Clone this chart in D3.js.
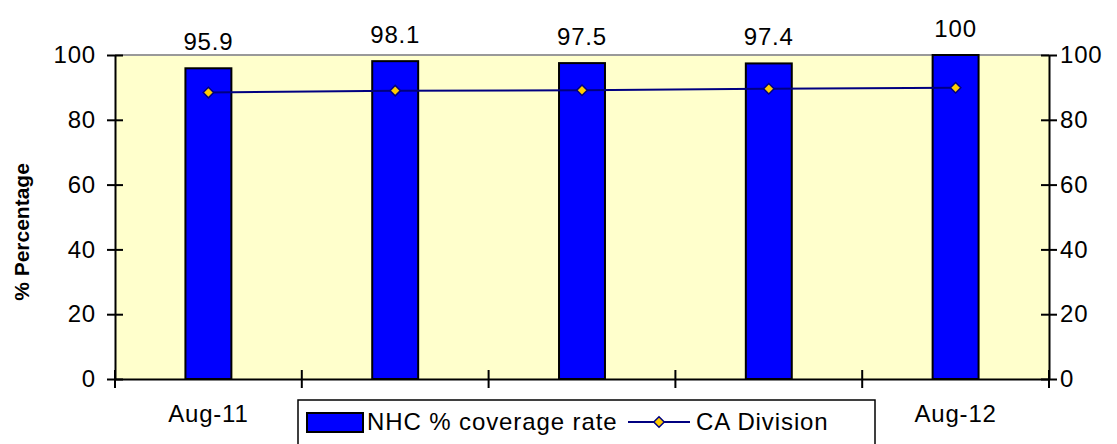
<!DOCTYPE html>
<html><head><meta charset="utf-8">
<script src="https://cdn.jsdelivr.net/npm/d3@7"></script>
<style>body{margin:0;background:#fff}svg{display:block}text{font-family:Arial,"Liberation Sans",sans-serif}</style>
</head><body><svg id="c" width="1117" height="444"></svg>
<script>
const categories = ["Aug-11","Nov-11","Feb-12","May-12","Aug-12"];
const tickLabels = ["Aug-11","","","","Aug-12"];
const nhcCoverage = [95.9, 98.1, 97.5, 97.4, 100];
const caDivision = [88.4, 89.0, 89.1, 89.6, 89.9];
const yTicks = [0,20,40,60,80,100];

const FS = 24;
const svg = d3.select("#c");
const L=115,R=1049,T=55,B=379;
const x = d3.scaleBand().domain(categories).range([L,R]).paddingInner(0).paddingOuter(0);
const y = d3.scaleLinear().domain([0,100]).range([B,T]);

svg.append("rect").attr("x",L).attr("y",T).attr("width",R-L).attr("height",B-T).attr("fill","#FFFFCC");
svg.append("line").attr("x1",L).attr("x2",R).attr("y1",T).attr("y2",T).attr("stroke","#999").attr("stroke-width",2);

const bw = x.bandwidth()*0.246;
svg.selectAll("rect.bar").data(nhcCoverage).join("rect").attr("class","bar")
  .attr("x",(d,i)=>x(categories[i])+x.bandwidth()/2-bw/2).attr("y",d=>y(d))
  .attr("width",bw).attr("height",d=>B-y(d))
  .attr("fill","#0000FF").attr("stroke","#000").attr("stroke-width",2);

svg.selectAll("text.val").data(nhcCoverage).join("text").attr("class","val")
  .attr("x",(d,i)=>x(categories[i])+x.bandwidth()/2).attr("y",d=>y(d)-18)
  .attr("text-anchor","middle").attr("font-size",FS).attr("fill","#000").attr("letter-spacing",0.8).text(d=>d);

const cx = (d,i)=>x(categories[i])+x.bandwidth()/2;
svg.append("path").datum(caDivision)
  .attr("d",d3.line().x(cx).y(d=>y(d)))
  .attr("fill","none").attr("stroke","#000080").attr("stroke-width",2);
const diamond = d3.symbol().type(d3.symbolDiamond2).size(70);
svg.selectAll("path.mk").data(caDivision).join("path").attr("class","mk")
  .attr("transform",(d,i)=>`translate(${cx(d,i)},${y(d)})`)
  .attr("d",diamond).attr("fill","#FFCC00").attr("stroke","#000080").attr("stroke-width",1.5);

// axes
const axL = svg.append("g").attr("transform",`translate(${L},0)`)
  .call(d3.axisLeft(y).tickValues(yTicks).tickSize(8).tickSizeOuter(0));
const axR = svg.append("g").attr("transform",`translate(${R},0)`)
  .call(d3.axisRight(y).tickValues(yTicks).tickSize(8).tickSizeOuter(0));
[axL,axR].forEach(g=>{
  g.select(".domain").attr("stroke","#000").attr("stroke-width",2);
  g.selectAll(".tick line").attr("stroke","#000").attr("stroke-width",2);
  g.selectAll(".tick text").attr("font-size",FS).attr("fill","#000").attr("font-family","Arial, 'Liberation Sans', sans-serif").attr("letter-spacing",0.8);
});
axL.selectAll(".tick line").attr("x1",8).attr("x2",-8);
axL.selectAll(".tick text").attr("x",-19);
axR.selectAll(".tick line").attr("x1",-8).attr("x2",8);
axR.selectAll(".tick text").attr("x",11);

const xb = d3.scaleOrdinal().domain(categories).range(tickLabels);
const axB = svg.append("g").attr("transform",`translate(0,${B})`)
  .call(d3.axisBottom(x).tickValues([]).tickSizeOuter(0));
axB.select(".domain").attr("stroke","#000").attr("stroke-width",2);
const bounds = categories.map(c=>x(c)).concat([R]);
axB.selectAll("line.bt").data(bounds).join("line").attr("class","bt")
  .attr("x1",d=>d).attr("x2",d=>d).attr("y1",-9).attr("y2",9).attr("stroke","#000").attr("stroke-width",2);
svg.selectAll("text.lbl").data(categories).join("text").attr("class","lbl")
  .attr("x",d=>x(d)+x.bandwidth()/2).attr("y",B+43).attr("text-anchor","middle")
  .attr("font-size",FS).attr("fill","#000").attr("font-weight","normal").attr("stroke","none")
  .attr("letter-spacing",0.8).text(d=>xb(d));

svg.append("text").attr("transform","translate(29,232) rotate(-90)").attr("text-anchor","middle")
  .attr("font-size",21).attr("font-weight","bold").attr("fill","#000").text("% Percentage");

// legend
const lg = svg.append("g");
lg.append("rect").attr("x",298).attr("y",400).attr("width",577).attr("height",50).attr("fill","#fff").attr("stroke","#000").attr("stroke-width",1.5);
lg.append("rect").attr("x",307).attr("y",413).attr("width",56).attr("height",19).attr("fill","#0000FF").attr("stroke","#000").attr("stroke-width",2);
lg.append("text").attr("x",367).attr("y",430).attr("font-size",FS).attr("fill","#000").attr("letter-spacing",0.9).text("NHC % coverage rate");
lg.append("line").attr("x1",628).attr("x2",690).attr("y1",422).attr("y2",422).attr("stroke","#000080").attr("stroke-width",2);
lg.append("path").attr("transform","translate(659,422)").attr("d",diamond).attr("fill","#FFCC00").attr("stroke","#000080").attr("stroke-width",1.5);
lg.append("text").attr("x",696).attr("y",430).attr("font-size",FS).attr("fill","#000").attr("letter-spacing",0.9).text("CA Division");
</script></body></html>
